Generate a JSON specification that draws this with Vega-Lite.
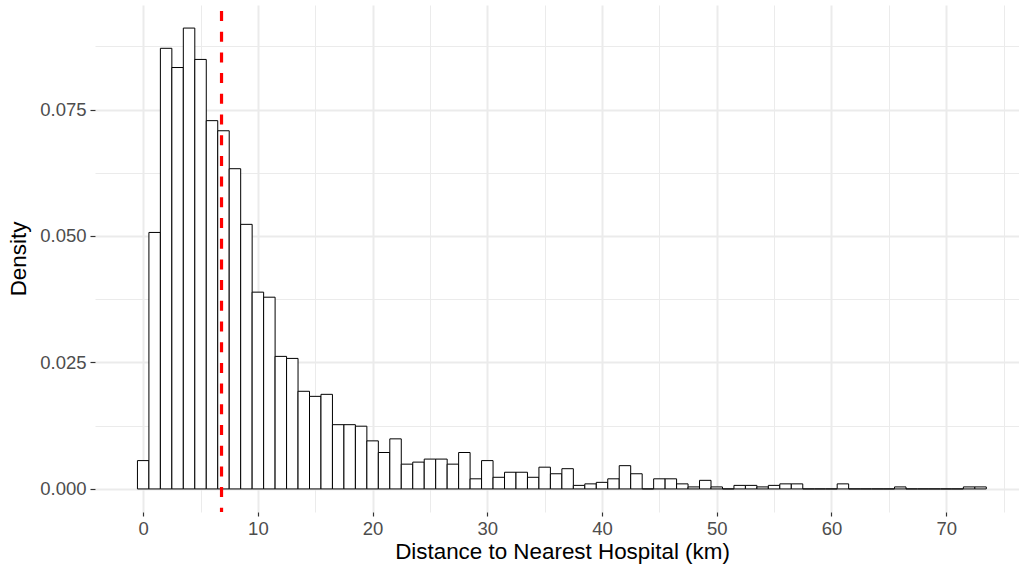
{
  "$schema": "https://vega.github.io/schema/vega-lite/v6.json",
  "autosize": {"type": "none"},
  "padding": {"left": 95, "top": 5, "right": 0, "bottom": 55},
  "width": 924,
  "height": 507,
  "background": "white",
  "config": {
    "view": {"stroke": null},
    "font": "Liberation Sans",
    "axis": {
      "domain": false,
      "labelFont": "Liberation Sans",
      "titleFont": "Liberation Sans",
      "labelColor": "#4D4D4D",
      "titleColor": "#000000",
      "titleFontWeight": "normal",
      "labelFontSize": 18.5,
      "titleFontSize": 22.4,
      "tickColor": "#333333",
      "tickWidth": 1.2,
      "gridColor": "#EBEBEB",
      "labelOverlap": false
    }
  },
  "datasets": {
    "bins": [
      {"bin_start": -0.5, "bin_end": 0.5, "density": 0.0056},
      {"bin_start": 0.5, "bin_end": 1.5, "density": 0.0507},
      {"bin_start": 1.5, "bin_end": 2.5, "density": 0.0871},
      {"bin_start": 2.5, "bin_end": 3.5, "density": 0.0833},
      {"bin_start": 3.5, "bin_end": 4.5, "density": 0.0911},
      {"bin_start": 4.5, "bin_end": 5.5, "density": 0.0849},
      {"bin_start": 5.5, "bin_end": 6.5, "density": 0.0728},
      {"bin_start": 6.5, "bin_end": 7.5, "density": 0.0708},
      {"bin_start": 7.5, "bin_end": 8.5, "density": 0.0633},
      {"bin_start": 8.5, "bin_end": 9.5, "density": 0.0523},
      {"bin_start": 9.5, "bin_end": 10.5, "density": 0.0389},
      {"bin_start": 10.5, "bin_end": 11.5, "density": 0.0379},
      {"bin_start": 11.5, "bin_end": 12.5, "density": 0.0262},
      {"bin_start": 12.5, "bin_end": 13.5, "density": 0.0258},
      {"bin_start": 13.5, "bin_end": 14.5, "density": 0.0193},
      {"bin_start": 14.5, "bin_end": 15.5, "density": 0.0183},
      {"bin_start": 15.5, "bin_end": 16.5, "density": 0.0187},
      {"bin_start": 16.5, "bin_end": 17.5, "density": 0.0127},
      {"bin_start": 17.5, "bin_end": 18.5, "density": 0.0127},
      {"bin_start": 18.5, "bin_end": 19.5, "density": 0.0124},
      {"bin_start": 19.5, "bin_end": 20.5, "density": 0.0095},
      {"bin_start": 20.5, "bin_end": 21.5, "density": 0.0072},
      {"bin_start": 21.5, "bin_end": 22.5, "density": 0.0099},
      {"bin_start": 22.5, "bin_end": 23.5, "density": 0.0049},
      {"bin_start": 23.5, "bin_end": 24.5, "density": 0.0053},
      {"bin_start": 24.5, "bin_end": 25.5, "density": 0.0059},
      {"bin_start": 25.5, "bin_end": 26.5, "density": 0.0059},
      {"bin_start": 26.5, "bin_end": 27.5, "density": 0.0049},
      {"bin_start": 27.5, "bin_end": 28.5, "density": 0.0072},
      {"bin_start": 28.5, "bin_end": 29.5, "density": 0.0020},
      {"bin_start": 29.5, "bin_end": 30.5, "density": 0.0056},
      {"bin_start": 30.5, "bin_end": 31.5, "density": 0.0023},
      {"bin_start": 31.5, "bin_end": 32.5, "density": 0.0033},
      {"bin_start": 32.5, "bin_end": 33.5, "density": 0.0033},
      {"bin_start": 33.5, "bin_end": 34.5, "density": 0.0023},
      {"bin_start": 34.5, "bin_end": 35.5, "density": 0.0043},
      {"bin_start": 35.5, "bin_end": 36.5, "density": 0.0030},
      {"bin_start": 36.5, "bin_end": 37.5, "density": 0.0040},
      {"bin_start": 37.5, "bin_end": 38.5, "density": 0.0007},
      {"bin_start": 38.5, "bin_end": 39.5, "density": 0.0010},
      {"bin_start": 39.5, "bin_end": 40.5, "density": 0.0013},
      {"bin_start": 40.5, "bin_end": 41.5, "density": 0.0020},
      {"bin_start": 41.5, "bin_end": 42.5, "density": 0.0046},
      {"bin_start": 42.5, "bin_end": 43.5, "density": 0.0030},
      {"bin_start": 43.5, "bin_end": 44.5, "density": 0},
      {"bin_start": 44.5, "bin_end": 45.5, "density": 0.0020},
      {"bin_start": 45.5, "bin_end": 46.5, "density": 0.0020},
      {"bin_start": 46.5, "bin_end": 47.5, "density": 0.0010},
      {"bin_start": 47.5, "bin_end": 48.5, "density": 0.0004},
      {"bin_start": 48.5, "bin_end": 49.5, "density": 0.0017},
      {"bin_start": 49.5, "bin_end": 50.5, "density": 0.0004},
      {"bin_start": 50.5, "bin_end": 51.5, "density": 0},
      {"bin_start": 51.5, "bin_end": 52.5, "density": 0.0007},
      {"bin_start": 52.5, "bin_end": 53.5, "density": 0.0007},
      {"bin_start": 53.5, "bin_end": 54.5, "density": 0.0004},
      {"bin_start": 54.5, "bin_end": 55.5, "density": 0.0007},
      {"bin_start": 55.5, "bin_end": 56.5, "density": 0.0010},
      {"bin_start": 56.5, "bin_end": 57.5, "density": 0.0010},
      {"bin_start": 57.5, "bin_end": 58.5, "density": 0},
      {"bin_start": 58.5, "bin_end": 59.5, "density": 0},
      {"bin_start": 59.5, "bin_end": 60.5, "density": 0},
      {"bin_start": 60.5, "bin_end": 61.5, "density": 0.0010},
      {"bin_start": 61.5, "bin_end": 62.5, "density": 0},
      {"bin_start": 62.5, "bin_end": 63.5, "density": 0},
      {"bin_start": 63.5, "bin_end": 64.5, "density": 0},
      {"bin_start": 64.5, "bin_end": 65.5, "density": 0},
      {"bin_start": 65.5, "bin_end": 66.5, "density": 0.0004},
      {"bin_start": 66.5, "bin_end": 67.5, "density": 0},
      {"bin_start": 67.5, "bin_end": 68.5, "density": 0},
      {"bin_start": 68.5, "bin_end": 69.5, "density": 0},
      {"bin_start": 69.5, "bin_end": 70.5, "density": 0},
      {"bin_start": 70.5, "bin_end": 71.5, "density": 0},
      {"bin_start": 71.5, "bin_end": 72.5, "density": 0.0004},
      {"bin_start": 72.5, "bin_end": 73.5, "density": 0.0004}
    ],
    "median": [{"median_km": 6.83}]
  },
  "layer": [
    {
      "data": {"name": "bins"},
      "mark": {"type": "rect", "fill": "white", "stroke": "black", "strokeWidth": 1},
      "encoding": {
        "x": {
          "field": "bin_start",
          "type": "quantitative",
          "scale": {"domain": [-4.2, 76.35], "nice": false, "zero": false, "padding": 0},
          "axis": {
            "values": [0, 5, 10, 15, 20, 25, 30, 35, 40, 45, 50, 55, 60, 65, 70, 75],
            "labelExpr": "datum.value % 10 === 0 ? datum.label : ''",
            "grid": true,
            "gridWidth": {"condition": {"test": "datum.value % 10 === 0", "value": 2}, "value": 1},
            "tickOpacity": {"condition": {"test": "datum.value % 10 === 0", "value": 1}, "value": 0},
            "tickSize": 4,
            "labelPadding": 3.4,
            "title": "Distance to Nearest Hospital (km)",
            "titleX": 467,
            "titleY": 46,
            "titleBaseline": "alphabetic",
            "titleAlign": "center"
          }
        },
        "x2": {"field": "bin_end"},
        "y": {
          "field": "density",
          "type": "quantitative",
          "scale": {"domain": [-0.00456, 0.09566], "nice": false, "zero": false, "padding": 0},
          "axis": {
            "values": [0, 0.0125, 0.025, 0.0375, 0.05, 0.0625, 0.075, 0.0875],
            "format": ".3f",
            "labelExpr": "round(datum.value * 10000) % 250 === 0 ? datum.label : ''",
            "grid": true,
            "gridWidth": {"condition": {"test": "round(datum.value * 10000) % 250 === 0", "value": 2}, "value": 1},
            "tickOpacity": {"condition": {"test": "round(datum.value * 10000) % 250 === 0", "value": 1}, "value": 0},
            "tickSize": 5,
            "labelPadding": 4,
            "title": "Density",
            "titleX": -70,
            "titleY": 253.5,
            "titleBaseline": "alphabetic",
            "titleAlign": "center"
          }
        },
        "y2": {"datum": 0}
      }
    },
    {
      "data": {"name": "median"},
      "mark": {"type": "rule", "color": "#FF0000", "strokeWidth": 3.2, "strokeDash": [10, 10.7], "strokeDashOffset": 14.7},
      "encoding": {
        "x": {"field": "median_km", "type": "quantitative"}
      }
    }
  ]
}
